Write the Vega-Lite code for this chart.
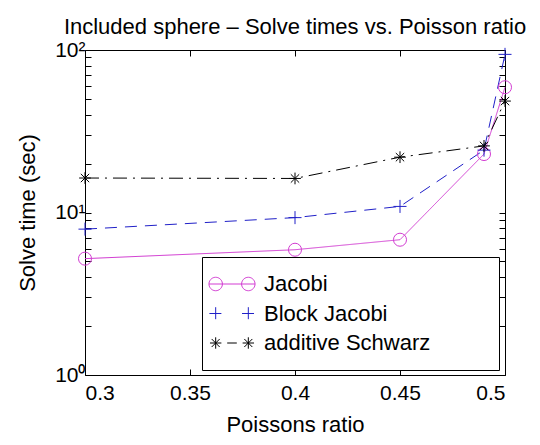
{
  "$schema": "https://vega.github.io/schema/vega-lite/v6.json",
  "width": 420,
  "height": 325,
  "autosize": "none",
  "padding": {"left": 85, "top": 50, "right": 35, "bottom": 70},
  "background": "white",
  "title": {
    "text": "Included sphere – Solve times vs. Poisson ratio",
    "font": "Liberation Sans",
    "fontSize": 22,
    "fontWeight": "normal",
    "color": "black",
    "anchor": "middle",
    "frame": "group",
    "baseline": "alphabetic",
    "offset": 18,
    "dy": 35
  },
  "data": {
    "values": [
      {"series": "Jacobi", "ratio": 0.3, "time": 5.2},
      {"series": "Jacobi", "ratio": 0.4, "time": 5.9},
      {"series": "Jacobi", "ratio": 0.45, "time": 6.8},
      {"series": "Jacobi", "ratio": 0.49, "time": 22.9},
      {"series": "Jacobi", "ratio": 0.5, "time": 59},
      {"series": "Block Jacobi", "ratio": 0.3, "time": 7.9},
      {"series": "Block Jacobi", "ratio": 0.4, "time": 9.3},
      {"series": "Block Jacobi", "ratio": 0.45, "time": 10.9},
      {"series": "Block Jacobi", "ratio": 0.49, "time": 24.2},
      {"series": "Block Jacobi", "ratio": 0.5, "time": 94},
      {"series": "additive Schwarz", "ratio": 0.3, "time": 16.3},
      {"series": "additive Schwarz", "ratio": 0.4, "time": 16.2},
      {"series": "additive Schwarz", "ratio": 0.45, "time": 21.9},
      {"series": "additive Schwarz", "ratio": 0.49, "time": 25.7},
      {"series": "additive Schwarz", "ratio": 0.5, "time": 48.5}
    ]
  },
  "config": {
    "view": {"stroke": null},
    "axis": {
      "grid": false,
      "domainColor": "black",
      "domainWidth": 1,
      "tickColor": "black",
      "tickWidth": 1,
      "tickSize": -6,
      "labelFont": "Liberation Sans",
      "labelFontSize": 21,
      "labelColor": "black",
      "titleFont": "Liberation Sans",
      "titleFontSize": 22,
      "titleFontWeight": "normal",
      "titleColor": "black"
    }
  },
  "resolve": {"axis": {"x": "independent", "y": "independent"}},
  "encoding": {
    "color": {
      "field": "series",
      "type": "nominal",
      "scale": {"domain": ["Jacobi", "Block Jacobi", "additive Schwarz"], "range": ["#d23cd2", "#2020c8", "black"]},
      "legend": null
    }
  },
  "layer": [
    {
      "mark": {"type": "line", "strokeWidth": 1},
      "encoding": {
        "x": {
          "field": "ratio",
          "type": "quantitative",
          "scale": {"domain": [0.3, 0.5], "nice": false},
          "axis": {"orient": "bottom", "title": "Poissons ratio", "values": [0.3, 0.35, 0.4, 0.45, 0.5], "format": "~g", "labelPadding": 13, "titlePadding": 11}
        },
        "y": {
          "field": "time",
          "type": "quantitative",
          "scale": {"type": "log", "domain": [1, 100], "nice": false},
          "axis": {
            "orient": "left",
            "title": "Solve time (sec)",
            "values": [1, 2, 3, 4, 5, 6, 7, 8, 9, 10, 20, 30, 40, 50, 60, 70, 80, 90, 100],
            "labelExpr": "datum.value == 1 ? '10⁰' : datum.value == 10 ? '10¹' : datum.value == 100 ? '10²' : ''",
            "labelPadding": 6,
            "titlePadding": 15
          }
        },
        "color": {
          "field": "series",
          "type": "nominal",
          "scale": {"domain": ["Jacobi", "Block Jacobi", "additive Schwarz"], "range": ["#d23cd2", "#2020c8", "black"]},
          "legend": {
            "orient": "none",
            "legendX": 117,
            "legendY": 207,
            "title": null,
            "padding": 16,
            "strokeColor": "black",
            "fillColor": "white",
            "labelFont": "Liberation Sans",
            "labelFontSize": 22,
            "labelColor": "black",
            "labelLimit": 0,
            "labelOffset": 21,
            "symbolOffset": 3,
            "rowPadding": 7.5,
            "symbolSize": 144,
            "symbolStrokeWidth": 1,
            "labelExpr": "datum.label + '\u00a0\u00a0\u00a0\u00a0\u00a0\u00a0\u2800'",
            "encode": {
              "symbols": {
                "update": {
                  "shape": {"signal": "datum.value == 'Jacobi' ? 'M-3.83,0H3.83M-1.6,0A1.12,1.12,0,1,1,-3.84,0A1.12,1.12,0,1,1,-1.6,0M3.84,0A1.12,1.12,0,1,1,1.6,0A1.12,1.12,0,1,1,3.84,0' : datum.value == 'Block Jacobi' ? 'M-3.77,0H-1.67M-2.72,-1.05V1.05M1.67,0H3.77M2.72,-1.05V1.05' : 'M-3.67,0H-1.77M-2.72,-0.95V0.95M-3.39,-0.67L-2.05,0.67M-3.39,0.67L-2.05,-0.67M-0.8,0H0.8M1.77,0H3.67M2.72,-0.95V0.95M2.05,-0.67L3.39,0.67M2.05,0.67L3.39,-0.67'"},
                  "fill": {"value": "transparent"},
                  "strokeDash": {"value": []}
                }
              }
            }
          }
        },
        "strokeDash": {
          "field": "series",
          "type": "nominal",
          "scale": {"domain": ["Jacobi", "Block Jacobi", "additive Schwarz"], "range": [[1, 0], [12, 8], [14, 6, 2, 6]]},
          "legend": null
        }
      }
    },
    {
      "transform": [{"filter": "datum.series == 'Jacobi'"}],
      "mark": {"type": "point", "shape": "circle", "filled": false, "size": 170, "strokeWidth": 1, "opacity": 1},
      "encoding": {
        "x": {
          "field": "ratio",
          "type": "quantitative",
          "axis": {"orient": "top", "title": null, "labels": false, "values": [0.3, 0.35, 0.4, 0.45, 0.5]}
        },
        "y": {
          "field": "time",
          "type": "quantitative",
          "axis": {"orient": "right", "title": null, "labels": false, "values": [1, 2, 3, 4, 5, 6, 7, 8, 9, 10, 20, 30, 40, 50, 60, 70, 80, 90, 100]}
        }
      }
    },
    {
      "transform": [{"filter": "datum.series == 'Block Jacobi'"}],
      "mark": {"type": "point", "shape": "M-1,0H1M0,-1V1", "filled": false, "size": 170, "strokeWidth": 1, "opacity": 1},
      "encoding": {
        "x": {"field": "ratio", "type": "quantitative", "axis": null},
        "y": {"field": "time", "type": "quantitative", "axis": null}
      }
    },
    {
      "transform": [{"filter": "datum.series == 'additive Schwarz'"}],
      "mark": {"type": "point", "shape": "M-0.9,0H0.9M0,-0.9V0.9M-0.64,-0.64L0.64,0.64M-0.64,0.64L0.64,-0.64", "filled": false, "size": 170, "strokeWidth": 1, "opacity": 1},
      "encoding": {
        "x": {"field": "ratio", "type": "quantitative", "axis": null},
        "y": {"field": "time", "type": "quantitative", "axis": null}
      }
    }
  ]
}
